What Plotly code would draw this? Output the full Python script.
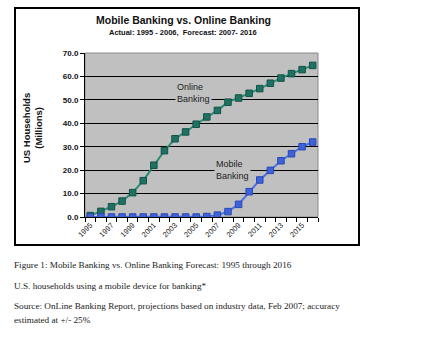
import plotly.graph_objects as go

years = list(range(1995, 2017))
online = [0.6, 2.4, 4.4, 6.8, 10.4, 15.5, 22.1, 28.3, 33.4, 36.3, 39.6, 42.7,
          45.5, 49.0, 50.8, 52.8, 54.8, 57.1, 59.3, 61.2, 62.9, 64.7]
mobile = [0.0, 0.0, 0.0, 0.0, 0.0, 0.0, 0.0, 0.0, 0.0, 0.0, 0.0, 0.2,
          0.8, 2.3, 5.4, 10.8, 15.8, 19.9, 24.0, 27.0, 30.0, 32.0]
label_years = list(range(1995, 2016, 2))
y_ticks = [0, 10, 20, 30, 40, 50, 60, 70]

W, H = 438, 359
L, R, T, B = 85, 318, 53, 217


def px(x):
    return (x - L) / (R - L)


def py(y):
    return (B - y) / (B - T)


fig = go.Figure()
fig.add_trace(go.Scatter(
    x=years, y=online, mode="lines+markers", name="Online Banking",
    line=dict(color="#2a8c75", width=2),
    marker=dict(symbol="square", size=6.5, color="#1f7263",
                line=dict(color="#145246", width=1)),
    showlegend=False))
fig.add_trace(go.Scatter(
    x=years, y=mobile, mode="lines+markers", name="Mobile Banking",
    line=dict(color="#4a70e6", width=2),
    marker=dict(symbol="square", size=6.5, color="#3d62db",
                line=dict(color="#2a48b0", width=1)),
    showlegend=False))

font_sans = "Liberation Sans, Arial, sans-serif"
font_serif = "Liberation Serif, Times New Roman, serif"

fig.update_layout(
    width=W, height=H,
    margin=dict(l=L, r=W - R, t=T, b=H - B),
    paper_bgcolor="white",
    plot_bgcolor="#c0c0c0",
    xaxis=dict(
        range=[1994.5, 2016.5],
        tickvals=label_years,
        ticktext=[str(y) for y in label_years],
        tickangle=-45,
        ticks="",
        tickfont=dict(family=font_sans, size=7.5, color="#222"),
        showgrid=False, zeroline=False,
        showline=True, linecolor="black", linewidth=1,
        minor=dict(tickvals=[y + 0.5 for y in range(1994, 2017)],
                   ticks="outside", ticklen=4, tickcolor="black", showgrid=False),
    ),
    yaxis=dict(
        range=[0, 70],
        tickvals=y_ticks,
        tickformat=".1f",
        ticks="outside", ticklen=4, tickcolor="black",
        tickfont=dict(family=font_sans, size=8, color="#111", weight="bold"),
        showgrid=True, gridcolor="black", gridwidth=1,
        zeroline=False,
        showline=True, linecolor="black", linewidth=1,
    ),
)

# plot border (top/right)
fig.add_shape(type="rect", xref="paper", yref="paper", x0=0, x1=1, y0=0, y1=1,
              line=dict(color="#8a8a8a", width=1), layer="below")
# outer chart frame
fig.add_shape(type="rect", xref="paper", yref="paper",
              x0=px(15), x1=px(359), y0=py(245), y1=py(8),
              line=dict(color="black", width=2))

anns = [
    dict(text="<b>Mobile Banking vs. Online Banking</b>", x=px(183), y=py(20),
         font=dict(family=font_sans, size=10.5, color="#111")),
    dict(text="<b>Actual: 1995 - 2006,  Forecast: 2007- 2016</b>", x=px(183), y=py(33),
         font=dict(family=font_sans, size=7.5, color="#111")),
]
for a in anns:
    fig.add_annotation(xref="paper", yref="paper", showarrow=False,
                       xanchor="center", yanchor="middle", **a)

fig.add_annotation(xref="paper", yref="paper", x=px(32), y=py(128),
                   text="<b>US Households<br>(Millions)</b>", textangle=-90,
                   showarrow=False, xanchor="center", yanchor="middle",
                   font=dict(family=font_sans, size=9.5, color="#111"))

fig.add_annotation(x=2003.0, y=52.9, xref="x", yref="y",
                   text="Online<br>Banking", showarrow=False, align="left",
                   xanchor="left", yanchor="middle", bgcolor="#c0c0c0", borderpad=1,
                   font=dict(family=font_sans, size=9, color="#222"))
fig.add_annotation(x=2006.7, y=20.0, xref="x", yref="y",
                   text="Mobile<br>Banking", showarrow=False, align="left",
                   xanchor="left", yanchor="middle", bgcolor="#c0c0c0", borderpad=1,
                   font=dict(family=font_sans, size=9, color="#222"))

notes = [
    ("Figure 1: Mobile Banking vs. Online Banking Forecast: 1995 through 2016", 265),
    ("U.S. households using a mobile device for banking*", 286),
    ("Source: OnLine Banking Report, projections based on industry data, Feb 2007; accuracy", 306),
    ("estimated at +/- 25%", 320),
]
for t, yy in notes:
    fig.add_annotation(xref="paper", yref="paper", x=px(12), y=py(yy), text=t,
                       showarrow=False, xanchor="left", yanchor="middle",
                       font=dict(family=font_serif, size=9.2, color="#222"))

fig.write_html("out.html")
